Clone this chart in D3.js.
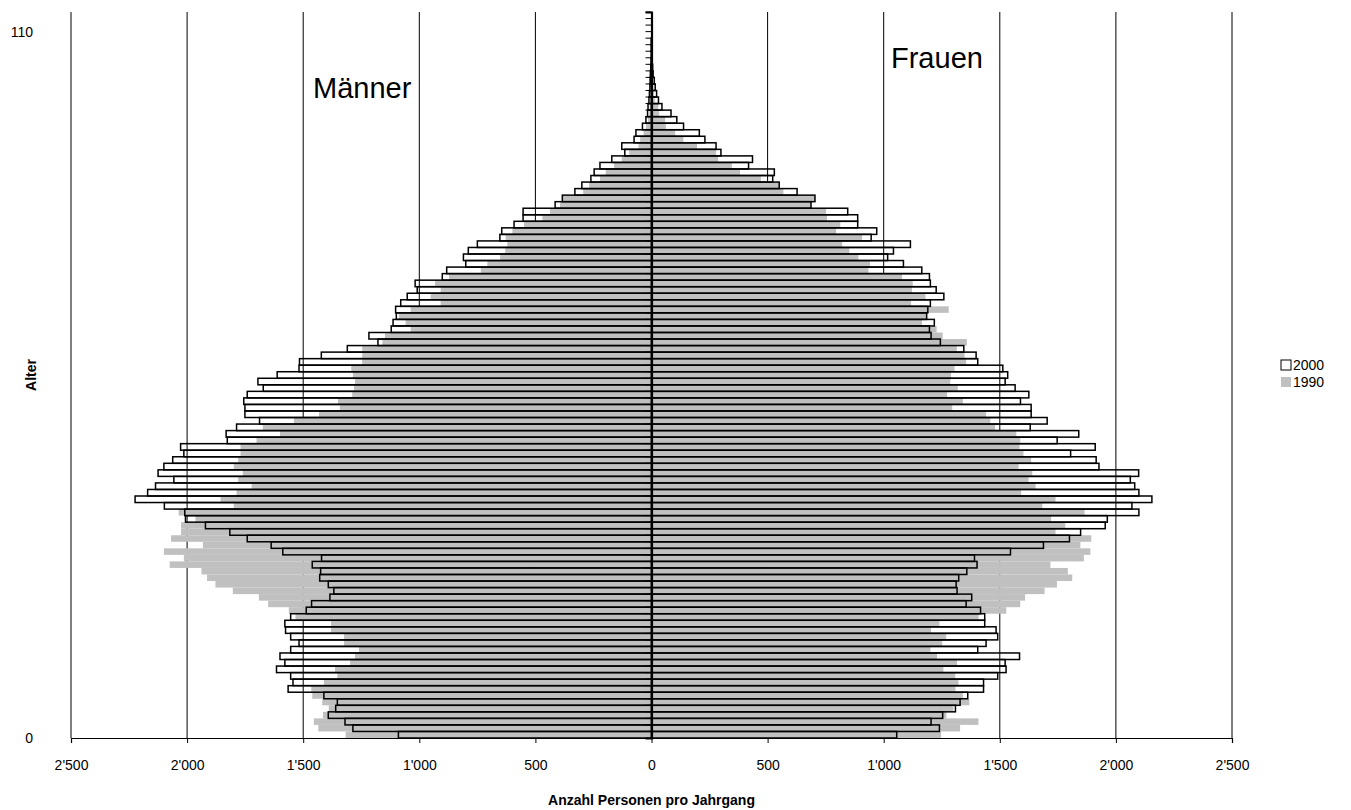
<!DOCTYPE html>
<html>
<head>
<meta charset="utf-8">
<script src="https://cdnjs.cloudflare.com/ajax/libs/d3/7.8.5/d3.min.js"></script>
<style>
  body { margin: 0; background: #fff; }
  text { font-family: "Liberation Sans", Arial, sans-serif; }
</style>
</head>
<body>
<div id="chart"></div>
<script>
// ages 0..110, one value per Jahrgang
const ages = d3.range(0, 111);

const men2000 = [1090,1286,1320,1392,1360,1353,1411,1565,1544,1554,
  1615,1579,1600,1554,1518,1554,1576,1579,1554,1487,
  1464,1385,1368,1392,1429,1425,1461,1421,1588,1638,
  1741,1816,1921,2007,2010,2098,2224,2170,2136,2057,
  2125,2100,2062,2014,2028,1827,1832,1787,1688,1751,
  1751,1756,1741,1672,1695,1612,1518,1516,1422,1310,
  1178,1217,1121,1113,1099,1102,1080,1052,1009,1018,
  901,882,800,810,789,750,653,645,592,553,
  553,415,384,330,300,261,247,222,171,115,
  128,75,67,39,24,17,15,11,9,7,
  6,5,3,2,1,1,1,0,0,0,0];

const men1990 = [1317,1435,1454,1415,1390,1418,1461,1465,1411,1353,
  1363,1298,1277,1260,1324,1324,1380,1380,1533,1562,
  1651,1691,1803,1878,1914,1938,2075,2014,2100,1932,
  2069,2026,2026,1964,2036,1799,1856,1787,1722,1780,
  1760,1799,1780,1770,1770,1701,1600,1674,1540,1432,
  1342,1350,1289,1281,1277,1286,1293,1246,1246,1246,
  1159,1148,1037,1059,1088,1037,908,951,908,932,
  872,735,707,652,630,621,628,599,549,470,
  437,394,384,294,269,222,197,161,128,96,
  56,49,34,24,15,10,8,6,5,3,
  2,2,1,1,0,0,0,0,0,0,0];

const women2000 = [1056,1240,1204,1254,1309,1329,1362,1430,1430,1491,
  1527,1523,1585,1405,1441,1491,1484,1435,1435,1417,
  1355,1379,1316,1312,1323,1358,1402,1391,1546,1688,
  1800,1848,1954,1963,2099,2069,2155,2099,2081,2062,
  2098,1927,1915,1805,1911,1747,1840,1631,1704,1635,
  1635,1589,1625,1566,1523,1534,1513,1405,1398,1345,
  1244,1204,1197,1218,1185,1190,1201,1259,1226,1201,
  1197,1164,1085,1017,1042,1115,946,970,888,888,
  845,687,704,627,550,522,529,418,435,299,
  278,230,206,138,109,84,45,30,22,16,
  12,7,5,3,2,1,1,0,0,0,0];

const women1990 = [1247,1329,1408,1270,1300,1369,1341,1309,1322,1308,
  1257,1316,1230,1201,1252,1269,1204,1240,1409,1528,
  1588,1609,1693,1746,1812,1793,1718,1862,1890,1847,
  1894,1740,1782,1721,1865,1683,1740,1592,1654,1624,
  1640,1581,1635,1602,1585,1588,1571,1480,1459,1441,
  1295,1341,1273,1319,1287,1290,1305,1355,1348,1315,
  1358,1254,1228,1165,1183,1280,1118,1180,1122,1125,
  1079,934,941,891,852,821,907,795,813,756,
  752,687,704,568,550,471,381,346,287,278,
  196,137,102,62,59,33,29,14,10,8,
  5,3,2,1,1,0,0,0,0,0,0];

const xTicks = d3.range(-2500, 2501, 500);
const ageLabels = [0, 110];

const width = 1351, height = 810;
const margin = { top: 12, right: 119, bottom: 72, left: 71 };

const svg = d3.select("#chart").append("svg")
    .attr("width", width)
    .attr("height", height);

const x = d3.scaleLinear()
    .domain([-2500, 2500])
    .range([margin.left, width - margin.right]);

const y = d3.scaleBand()
    .domain(ages)
    .range([height - margin.bottom, margin.top])
    .padding(0);

// position of the two age labels on the left
const yLabel = d3.scaleLinear()
    .domain([0, 110])
    .range([height - margin.bottom, 32]);

const fmt = d3.formatLocale({ decimal: ".", thousands: "'", grouping: [3], currency: ["", ""] }).format(",");

// vertical gridlines
svg.append("g")
    .selectAll("line")
    .data(xTicks)
    .enter().append("line")
    .attr("x1", d => x(d)).attr("x2", d => x(d))
    .attr("y1", margin.top).attr("y2", height - margin.bottom)
    .attr("stroke", "#000")
    .attr("stroke-width", 1);

// 1990 in grey, behind
const bars = svg.append("g");
bars.selectAll(".m90")
    .data(ages)
    .enter().append("rect")
    .attr("x", d => x(-men1990[d]))
    .attr("width", d => x(0) - x(-men1990[d]))
    .attr("y", d => y(d))
    .attr("height", y.bandwidth())
    .attr("fill", "#c0c0c0");

bars.selectAll(".w90")
    .data(ages)
    .enter().append("rect")
    .attr("x", x(0))
    .attr("width", d => x(women1990[d]) - x(0))
    .attr("y", d => y(d))
    .attr("height", y.bandwidth())
    .attr("fill", "#c0c0c0");

// 2000 as outlines on top
bars.selectAll(".m00")
    .data(ages.filter(d => men2000[d] > 0))
    .enter().append("rect")
    .attr("x", d => x(-men2000[d]))
    .attr("width", d => x(0) - x(-men2000[d]))
    .attr("y", d => y(d))
    .attr("height", y.bandwidth())
    .attr("fill", "none")
    .attr("stroke", "#000")
    .attr("stroke-width", 1.5);

bars.selectAll(".w00")
    .data(ages.filter(d => women2000[d] > 0))
    .enter().append("rect")
    .attr("x", x(0))
    .attr("width", d => x(women2000[d]) - x(0))
    .attr("y", d => y(d))
    .attr("height", y.bandwidth())
    .attr("fill", "none")
    .attr("stroke", "#000")
    .attr("stroke-width", 1.5);

// centre axis with a tick per Jahrgang
svg.append("g")
    .attr("transform", `translate(${x(0)},0)`)
    .call(d3.axisLeft(y).tickSize(6).tickFormat(""))
    .call(g => g.selectAll(".tick line").attr("transform", `translate(0,${-y.bandwidth() / 2})`))
    .call(g => g.select(".domain").attr("stroke-width", 2.2));

// bottom axis
const xAxis = svg.append("g")
    .attr("transform", `translate(0,${height - margin.bottom})`)
    .call(d3.axisBottom(x).tickValues(xTicks).tickSize(5).tickPadding(17)
        .tickFormat(d => fmt(Math.abs(d))));
xAxis.select(".domain").attr("stroke", "#000").attr("stroke-width", 1.2);
xAxis.selectAll("text").style("font-size", "14px").attr("fill", "#000");

// age labels
svg.append("g")
    .selectAll("text")
    .data(ageLabels)
    .enter().append("text")
    .attr("x", 33)
    .attr("y", d => yLabel(d) + 5)
    .attr("text-anchor", "end")
    .style("font-size", "14px")
    .text(d => d);

// axis titles
svg.append("text")
    .attr("x", x(0))
    .attr("y", 805)
    .attr("text-anchor", "middle")
    .style("font-size", "14px")
    .style("font-weight", "bold")
    .text("Anzahl Personen pro Jahrgang");

svg.append("text")
    .attr("transform", "translate(36,375) rotate(-90)")
    .attr("text-anchor", "middle")
    .style("font-size", "14px")
    .style("font-weight", "bold")
    .text("Alter");

svg.append("text")
    .attr("x", 313).attr("y", 98)
    .style("font-size", "29px")
    .text("Männer");

svg.append("text")
    .attr("x", 891).attr("y", 68)
    .style("font-size", "29px")
    .text("Frauen");

// legend
const legend = svg.append("g").attr("transform", "translate(1281,360)");
const legendItems = [
    { label: "2000", fill: "#fff", stroke: "#000" },
    { label: "1990", fill: "#c0c0c0", stroke: "none" }
];
legendItems.forEach((item, i) => {
    legend.append("rect")
        .attr("x", 0).attr("y", i * 17)
        .attr("width", 10).attr("height", 10)
        .attr("fill", item.fill)
        .attr("stroke", item.stroke);
    legend.append("text")
        .attr("x", 12).attr("y", i * 17 + 10)
        .style("font-size", "14px")
        .text(item.label);
});
</script>
</body>
</html>
